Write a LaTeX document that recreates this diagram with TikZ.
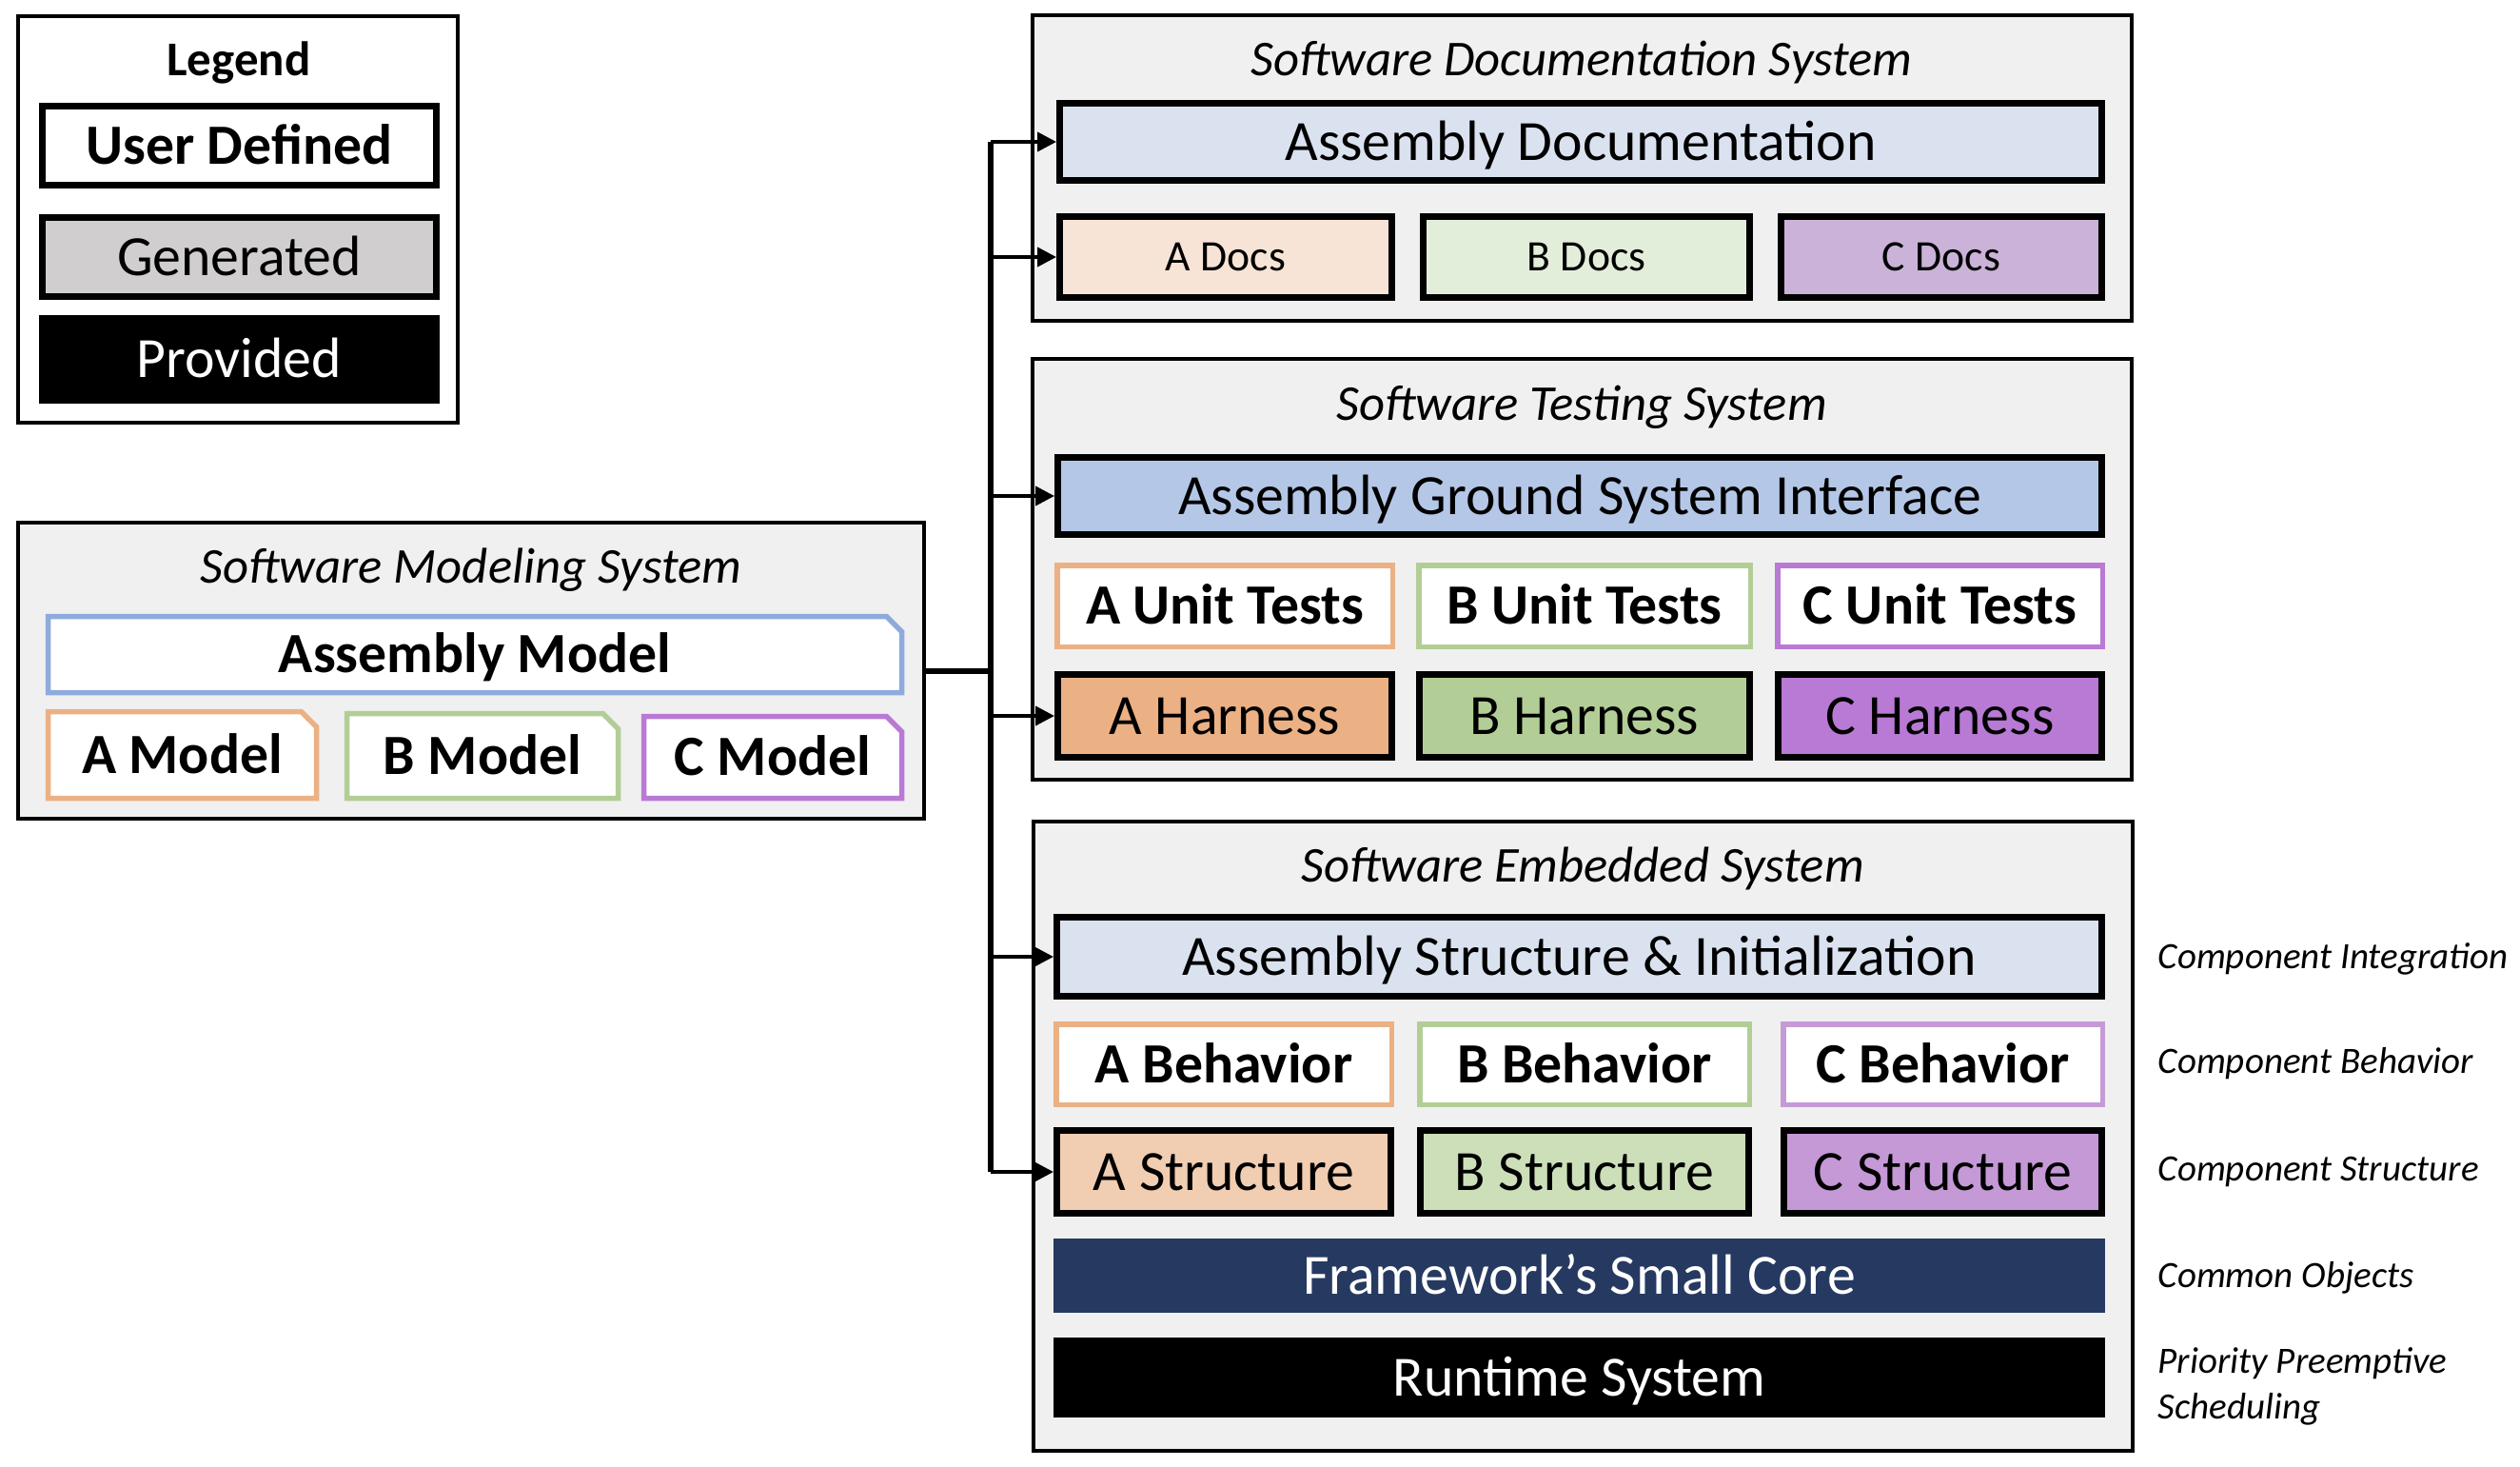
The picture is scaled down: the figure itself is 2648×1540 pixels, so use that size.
\documentclass[tikz,border=0pt]{standalone}
\usepackage{fontspec}
\setmainfont{Carlito}
\usepackage{tikz}
\usetikzlibrary{calc,positioning,arrows.meta}
\definecolor{panelgray}{HTML}{F0F0F0}
\definecolor{gengray}{HTML}{D0CECE}
\definecolor{asmlight}{HTML}{DAE2F0}
\definecolor{asmmid}{HTML}{B4C7E7}
\definecolor{asmline}{HTML}{8FAADC}
\definecolor{orgline}{HTML}{EBB185}
\definecolor{grnline}{HTML}{B2CE96}
\definecolor{purline}{HTML}{B87AD4}
\definecolor{purlight}{HTML}{C59BD7}
\definecolor{orgdoc}{HTML}{F8E4D6}
\definecolor{grndoc}{HTML}{E3EEDA}
\definecolor{purdoc}{HTML}{CAB2D8}
\definecolor{orgstr}{HTML}{F1CDB2}
\definecolor{grnstr}{HTML}{CCDFB9}
\definecolor{purstr}{HTML}{C499D6}
\definecolor{corenavy}{HTML}{263A61}
\begin{document}
\begin{tikzpicture}[x=0.1mm, y=-0.1mm]
\tikzstyle{panel}=[rectangle, draw, fill=panelgray, line width=0.4mm, inner sep=0pt]
\tikzstyle{lbl}=[rectangle, inner sep=0pt, text height=10.95pt, text depth=0pt, font=\fontsize{17}{20}\selectfont]
\tikzstyle{blk}=[lbl, draw, line width=0.7mm]
\tikzstyle{usr}=[lbl, draw, fill=white, line width=0.55mm, font=\fontsize{17}{20}\selectfont\bfseries]
\tikzstyle{ttl}=[inner sep=0pt, text height=9.66pt, text depth=0pt, font=\fontsize{15}{18}\selectfont\itshape]
\tikzstyle{side}=[anchor=west, inner sep=0pt, text height=7.15pt, text depth=0pt, align=left, font=\fontsize{11.1}{13.8}\selectfont\itshape]
\tikzstyle{mdlline}=[line width=0.55mm, fill=white]
\tikzstyle{bus}=[line width=0.6mm]
\tikzstyle{arr}=[line width=0.4mm, -{Triangle[length=2mm, width=2mm]}]
\useasboundingbox (0,0) rectangle (2648,1540);
% legend
\node[panel, fill=white, minimum width=46.2mm, minimum height=42.7mm] (lgd) at (250,230.5) {};
\node[lbl, text height=9.34pt, font=\fontsize{14.5}{17}\selectfont\bfseries] (lgdttl) at (251,63) {Legend};
\node[blk, fill=white, minimum width=41.4mm, minimum height=8.3mm, font=\fontsize{17}{20}\selectfont\bfseries] (lgdusr) at (251.5,153) {User Defined};
\node[blk, fill=gengray, minimum width=41.4mm, minimum height=8.3mm] (lgdgen) at (251.5,270) {Generated};
\node[lbl, fill=black, text=white, minimum width=42.1mm, minimum height=9.3mm] (lgdprv) at (251,377.5) {Provided};
% modeling
\node[panel, minimum width=95.2mm, minimum height=31.1mm] (mdl) at (495,704.5) {};
\node[ttl] (mdlttl) at (495,596) {Software Modeling System};
\foreach \i/\x/\y/\w/\h/\c/\t in {Asm/499/687.5/89.7/8.0/asmline/Assembly Model, A/191.5/793/28.2/9.1/orgline/A Model, B/507/794/28.5/8.9/grnline/B Model, C/812/795.5/27.1/8.6/purline/C Model}{
  \draw[mdlline, draw=\c] ({\x-\w*5},{\y+\h*5}) -- ({\x-\w*5},{\y-\h*5}) -- ({\x+\w*5-16},{\y-\h*5}) -- ({\x+\w*5},{\y-\h*5+16}) -- ({\x+\w*5},{\y+\h*5}) -- cycle;
  \node[lbl, font=\fontsize{17}{20}\selectfont\bfseries] (m\i) at (\x,\y) {\t};
}
% documentation
\node[panel, minimum width=115.5mm, minimum height=32.1mm] (doc) at (1662.5,176.5) {};
\node[ttl] (docttl) at (1662,63) {Software Documentation System};
\node[blk, fill=asmlight, minimum width=109.5mm, minimum height=8.1mm] (adoc) at (1661,149) {Assembly Documentation};
\foreach \i/\x/\w/\c in {A/1288/34.9/orgdoc, B/1667/34.3/grndoc, C/2040/33.7/purdoc}{\node[blk, fill=\c, minimum width=\w mm, minimum height=8.5mm, text height=8.37pt, font=\fontsize{13}{16}\selectfont] (docs\i) at (\x,270) {\i\ Docs};}
% testing
\node[panel, minimum width=115.5mm, minimum height=44.2mm] (tst) at (1662.5,598) {};
\node[ttl] (tstttl) at (1662,425) {Software Testing System};
\node[blk, fill=asmmid, minimum width=109.7mm, minimum height=8.1mm] (agsi) at (1660,521) {Assembly Ground System Interface};
\foreach \i/\x/\w/\c in {A/1287/35.25/orgline, B/1665/34.85/grnline, C/2038.5/34.15/purline}{
  \node[usr, draw=\c, minimum width=\w mm, minimum height=8.55mm] (unit\i) at (\x,636.5) {\i\ Unit Tests};
  \node[blk, fill=\c, minimum width={\w mm-0.15mm}, minimum height=8.7mm] (harn\i) at (\x,752) {\i\ Harness};
}
% embedded
\node[panel, minimum width=115.5mm, minimum height=66.1mm] (emb) at (1663.5,1193.5) {};
\node[ttl] (embttl) at (1663,910) {Software Embedded System};
\node[blk, fill=asmlight, minimum width=109.8mm, minimum height=8.3mm] (asi) at (1659.5,1005) {Assembly Structure \& Initialization};
\foreach \i/\x/\w/\c/\f in {A/1286/35.25/orgline/orgstr, B/1665/34.65/grnline/grnstr, C/2041.5/33.55/purlight/purstr}{
  \node[usr, draw=\c, minimum width=\w mm, minimum height=8.45mm] (beh\i) at (\x,1118) {\i\ Behavior};
  \node[blk, fill=\f, minimum width={\w mm-0.15mm}, minimum height=8.7mm] (str\i) at (\x,1231) {\i\ Structure};
}
\node[lbl, fill=corenavy, text=white, minimum width=110.5mm, minimum height=7.8mm] (core) at (1659.5,1340) {Framework’s Small Core};
\node[lbl, fill=black, text=white, minimum width=110.5mm, minimum height=8.4mm] (rts) at (1659.5,1447) {Runtime System};
\foreach \i/\y/\t in {intg/1005/Component Integration, behv/1115/Component Behavior, strc/1228/Component Structure, objs/1340/Common Objects, schd/1478/Priority Preemptive\\Scheduling}{\node[side] (s\i) at (2267,\y) {\t};}
% connectors
\coordinate (busx) at (1041,705);
\draw[bus] (mdl.east) -- (mdl.east -| busx);
\draw[bus] (adoc.west -| busx) -- (strA.west -| busx);
\foreach \i in {adoc,docsA,agsi,harnA,asi,strA}{\draw[arr] (\i.west -| busx) -- (\i.west);}
\end{tikzpicture}
\end{document}
